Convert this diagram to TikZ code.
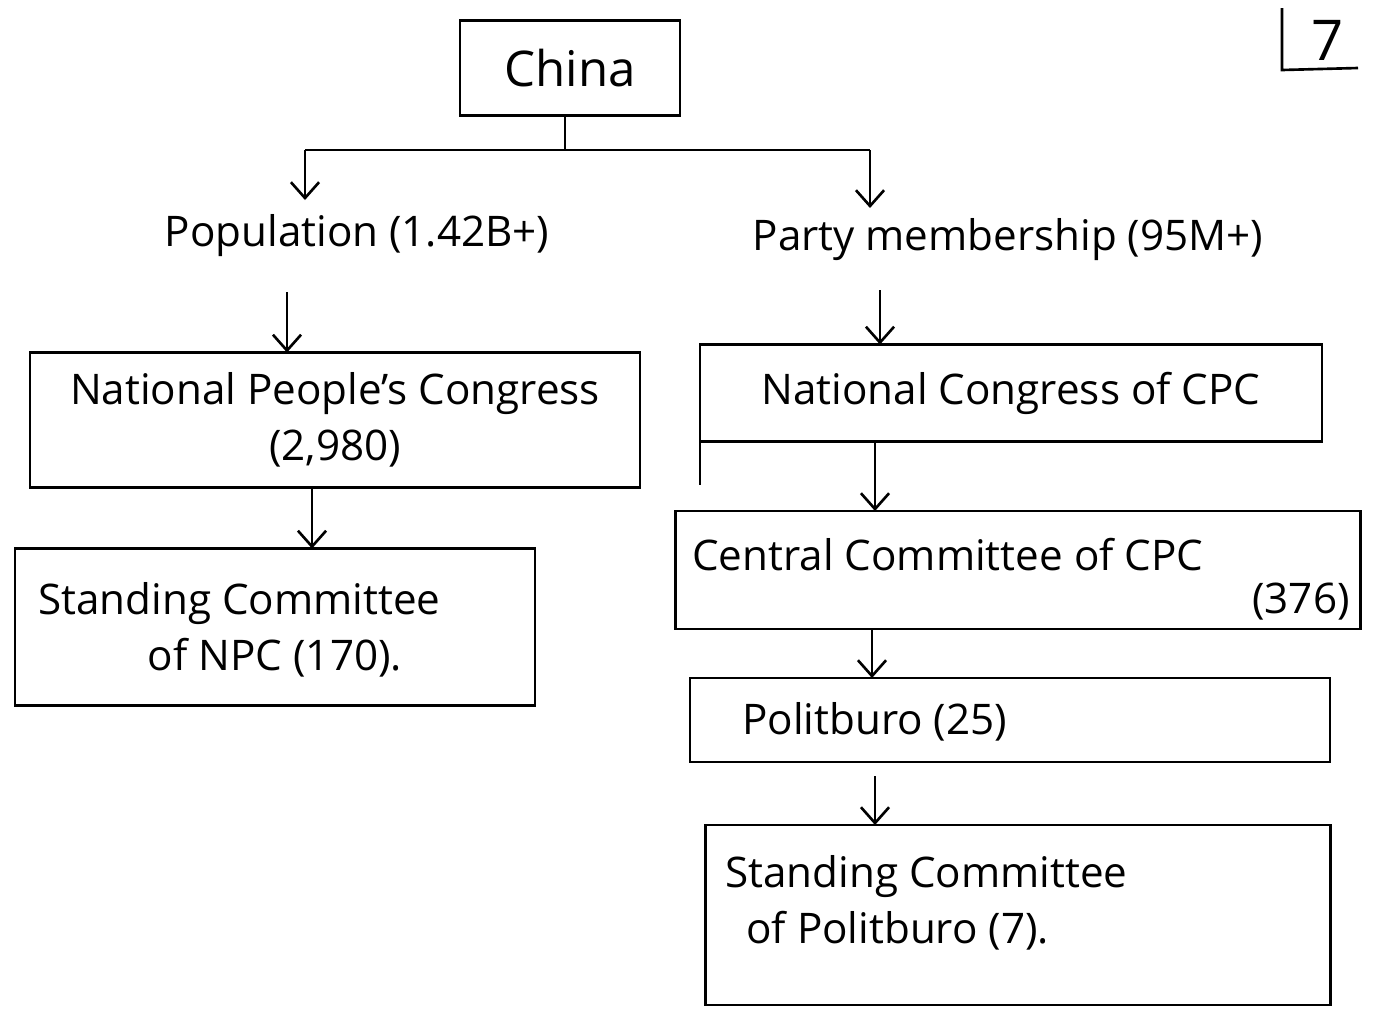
\documentclass[tikz,border=0pt]{standalone}
\usepackage{fontspec}
\setmainfont{Open Sans}
\usetikzlibrary{arrows.meta}
\begin{document}
\begin{tikzpicture}[x=0.02cm,y=-0.02cm,
  every node/.style={font=\fontsize{24}{32}\selectfont, inner sep=0pt},
  box/.style={draw, line width=1.5pt, inner sep=0pt, outer sep=0pt},
  conn/.style={line width=1.5pt},
  arr/.style={line width=1.5pt, -{Straight Barb[length=9pt,width=16pt,line width=1.5pt]}}]
\useasboundingbox[fill=white] (0,0) rectangle (1376,1015);
% corner mark
\coordinate (cTop) at (1282,8);
\coordinate (cCorner) at (1282,70);
\coordinate (cEnd) at (1358,68);
\draw[conn] (cTop) -- (cCorner) -- (cEnd);
\node[font=\fontsize{32}{36}\selectfont] (pagenum) at (1328,40) {7};
% China
\node[box, minimum width=4.4cm, minimum height=1.9cm, font=\fontsize{28}{32}\selectfont] (china) at (570,68) {China};
\node (pop) at (357,236) {Population (1.42B+)};
\node (party) at (1008,240) {Party membership (95M+)};
\coordinate (split) at (565,150);
\coordinate (splitL) at (305,150);
\coordinate (splitR) at (870,150);
\draw[conn] (china.south -| split) -- (split);
\draw[conn] (splitL) -- (splitR);
\draw[arr] (splitL) -- (305,200);
\draw[arr] (splitR) -- (870,208);
% left column
\node[box, minimum width=12.2cm, minimum height=2.7cm, align=center] (npc) at (335,420) {National People's Congress\\(2,980)};
\node[box, minimum width=10.4cm, minimum height=3.14cm] (scnpc) at (275,627) {};
\node[anchor=west, align=left] (scnpcT) at (38,630) {Standing Committee\\\hspace{2.6em}of NPC (170).};
\draw[arr] (287,292) -- (npc.north -| 287,0);
\draw[arr] (npc.south -| 312,0) -- (scnpc.north -| 312,0);
% right column
\node[box, minimum width=12.44cm, minimum height=1.94cm] (nc) at (1011,393) {National Congress of CPC};
\coordinate (ncTail) at (nc.south west |- 0,485);
\draw[conn] (nc.north west) -- (ncTail);
\draw[arr] (880,290) -- (nc.north -| 880,0);
\node[box, minimum width=13.7cm, minimum height=2.36cm] (cc) at (1018,570) {};
\node[anchor=west] (ccT) at (692,555) {Central Committee of CPC};
\node[anchor=east] (ccN) at (1350,602) {(376)};
\draw[arr] (nc.south -| 875,0) -- (cc.north -| 875,0);
\node[box, minimum width=12.8cm, minimum height=1.68cm] (pb) at (1010,720) {};
\node[anchor=west] (pbT) at (742,722) {Politburo (25)};
\draw[arr] (cc.south -| 872,0) -- (pb.north -| 872,0);
\node[box, minimum width=12.5cm, minimum height=3.6cm] (scpb) at (1018,915) {};
\node[anchor=west, align=left] (scpbT) at (725,903) {Standing Committee\\\hspace{0.5em}of Politburo (7).};
\draw[arr] (pb.south -| 875,0) ++(0,14) -- (scpb.north -| 875,0);
\end{tikzpicture}
\end{document}
